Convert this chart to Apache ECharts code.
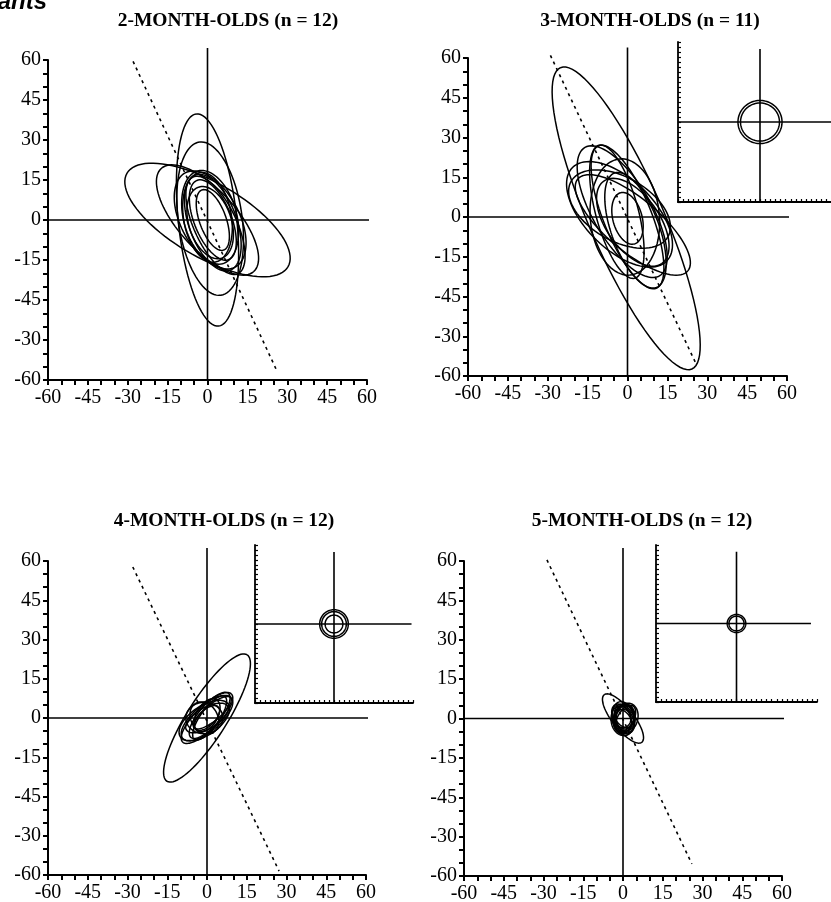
<!DOCTYPE html>
<html>
<head>
<meta charset="utf-8">
<title>infants</title>
<script src="https://cdn.jsdelivr.net/npm/echarts@6/dist/echarts.min.js"></script>
<style>
  html, body { margin: 0; padding: 0; background: #fff; }
  #chart { width: 831px; height: 902px; }
</style>
</head>
<body>
<div id="chart"></div>
<script>
const titles = ['2-MONTH-OLDS (n = 12)', '3-MONTH-OLDS (n = 11)', '4-MONTH-OLDS (n = 12)', '5-MONTH-OLDS (n = 12)']
const xTicks = ['-60', '-45', '-30', '-15', '0', '15', '30', '45', '60']
// bottom to top, as printed in the figure
const yTicks = ['-60', '-30', '-45', '-15', '0', '15', '30', '45', '60']

// ellipses: [cx, cy, semi-major, semi-minor, angle (deg)]
const ellipses2mo = [
  [0, 0, 40, 11, 96],
  [1, 0.5, 29, 12, 98],
  [0, 0, 35, 14, -30],
  [0, 0, 26, 11, -48],
  [1, 0, 20, 11, -62],
  [2, -1, 19, 9, -70],
  [1, 1, 18, 10, -75],
  [3, -2, 20, 8, -65],
  [0, 1, 17, 9, -80],
  [2, 0, 16, 7, -68],
  [1, -1, 14, 8, -72],
  [2, 0, 12, 5, -70]
]
const ellipses3mo = [
  [-0.5, -0.5, 62, 14, 113.5],
  [-2, 2, 28, 11, -60],
  [0, 0, 29, 9, -68],
  [-3, 1, 25, 13, -45],
  [2, -3, 27, 10, -40],
  [-4, 2, 26, 8, -75],
  [3, -5, 23, 9, -70],
  [-3, 3, 21, 12, -30],
  [0, -0.5, 10, 5.5, 105],
  [2, -2, 19, 10, -55],
  [-1, 0, 22, 13, -85]
]
const ellipses4mo = [
  [0, 0, 28.5, 7.5, 58],
  [0, 0, 13, 4.5, 45],
  [0, 0, 12, 5, 40],
  [1, 1, 11, 4, 50],
  [-1, -1, 11, 5.5, 35],
  [-1, 0, 7, 6, 0],
  [1, 0, 10, 3.5, 55],
  [0, 0, 9, 4, 30],
  [0, 1, 7, 4, 60],
  [2, 2, 9, 3, 40],
  [-1, 0, 6.5, 5, 120],
  [0, 0, 6, 3, 45]
]
const ellipses5mo = [
  [0, 0, 11.5, 4, 128],
  [0, 0, 6.5, 4, 100],
  [1, 0, 6, 4.5, 70],
  [0, 0, 6, 3.5, 120],
  [0.5, 0, 5, 4, 90],
  [1, 0, 5.5, 3, 60],
  [0, -0.5, 6, 4.5, 95],
  [0, 0, 5, 3, 110],
  [1, 0.5, 4.5, 3.5, 80],
  [0, 0, 4, 2.5, 130],
  [0.5, 0, 5.5, 3.5, 75],
  [0, 0, 3.5, 3, 90]
]
const ellipses = [ellipses2mo, ellipses3mo, ellipses4mo, ellipses5mo]

// dotted reference line end points
const dashed = [
  [[-28, 59.5], [26.3, -57]],
  [[-29, 61], [25.6, -55]],
  [[-28, 57.7], [27.2, -58.5]],
  [[-28.7, 60.4], [26, -55.4]]
]
// [top of vertical line, right end of horizontal line]
const crossEnds = [[64.5, 69.5], [64, 70], [65, 69.8], [65, 69.8]]

// inset: ring radii and crosshair ends (inset axes run -16..16)
const insetRings = [null, [4.3, 3.8], [2.9, 2.5, 1.8], [1.85, 1.5]]
const insetCross = [null, [14.6, 16], [14.6, 15.7], [14.6, 14.8]]

const mainGrids = [
  { left: 48, top: 60, width: 319, height: 320 },
  { left: 468, top: 58, width: 319, height: 318 },
  { left: 48, top: 561, width: 318, height: 314 },
  { left: 464, top: 561, width: 318, height: 315 }
]
const insetGrids = [
  null,
  { left: 678, top: 42, width: 164, height: 160 },
  { left: 255, top: 545, width: 158, height: 158 },
  { left: 656, top: 545, width: 161, height: 157 }
]
const titlePos = [[228, 11], [650, 11], [224, 511], [642, 511]]

const black = '#000'
const serif = 'Liberation Serif'

function renderEllipse(params, api) {
  const cx = api.value(0), cy = api.value(1)
  const a = api.value(2), b = api.value(3)
  const ang = api.value(4) * Math.PI / 180
  let pts = []
  for (let k = 0; k <= 90; k++) {
    const t = k / 90 * Math.PI * 2
    const ex = a * Math.cos(t), ey = b * Math.sin(t)
    pts.push(api.coord([cx + ex * Math.cos(ang) - ey * Math.sin(ang), cy + ex * Math.sin(ang) + ey * Math.cos(ang)]))
  }
  return {
    type: 'polyline',
    shape: { points: pts },
    style: { fill: null, stroke: black, lineWidth: 1.5 }
  }
}

function lineSeries(idx, data, width, type) {
  return {
    type: 'line', xAxisIndex: idx, yAxisIndex: idx, data: data,
    symbol: 'none', clip: false, silent: true,
    lineStyle: { color: black, width: width, type: type || 'solid' }
  }
}

let grids = [], xAxes = [], yAxes = [], series = [], graphics = []

mainGrids.forEach((g, i) => {
  grids.push(Object.assign({ containLabel: false, outerBoundsMode: 'none' }, g))
  const common = {
    gridIndex: i, type: 'value', min: -60, max: 60, interval: 15,
    axisLine: { onZero: false, lineStyle: { color: black, width: 2 } },
    axisTick: { length: 5, lineStyle: { color: black, width: 2 } },
    minorTick: { show: true, splitNumber: 3, length: 5, lineStyle: { color: black, width: 2 } },
    splitLine: { show: false },
    minorSplitLine: { show: false }
  }
  xAxes.push(Object.assign({}, common, {
    position: 'bottom',
    axisLabel: { color: black, fontFamily: serif, fontSize: 20, margin: 8,
      formatter: v => xTicks[Math.round((v + 60) / 15)] }
  }))
  yAxes.push(Object.assign({}, common, {
    position: 'left',
    axisLabel: { color: black, fontFamily: serif, fontSize: 20, margin: 7,
      formatter: v => yTicks[Math.round((v + 60) / 15)] }
  }))

  series.push({
    type: 'custom', xAxisIndex: i, yAxisIndex: i, silent: true,
    encode: { x: 0, y: 1 },
    renderItem: renderEllipse,
    data: ellipses[i]
  })
  series.push(lineSeries(i, [[0, -60], [0, crossEnds[i][0]]], 1.6))
  series.push(lineSeries(i, [[-60, 0], [crossEnds[i][1], 0]], 1.6))
  series.push(lineSeries(i, dashed[i], 1.6, [3, 4]))

  graphics.push({
    type: 'text', x: titlePos[i][0], y: titlePos[i][1],
    style: { text: titles[i], fontFamily: serif, fontWeight: 'bold', fontSize: 19.5,
      fill: black, align: 'center', verticalAlign: 'top' }
  })
})

insetGrids.forEach((g, i) => {
  if (!g) return
  const idx = grids.length
  grids.push(Object.assign({ containLabel: false, outerBoundsMode: 'none' }, g))
  const common = {
    gridIndex: idx, type: 'value', min: -16, max: 16, interval: 1,
    axisLine: { onZero: false, lineStyle: { color: black, width: 1.8 } },
    axisTick: { inside: true, length: 3, lineStyle: { color: black, width: 1.2 } },
    axisLabel: { show: false },
    splitLine: { show: false }
  }
  xAxes.push(Object.assign({ position: 'bottom' }, common))
  yAxes.push(Object.assign({ position: 'left' }, common))

  series.push({
    type: 'custom', xAxisIndex: idx, yAxisIndex: idx, silent: true,
    encode: { x: 0, y: 1 },
    renderItem: renderEllipse,
    data: insetRings[i].map(r => [0, 0, r, r, 0])
  })
  series.push(lineSeries(idx, [[0, -16], [0, insetCross[i][0]]], 1.6))
  series.push(lineSeries(idx, [[-16, 0], [insetCross[i][1], 0]], 1.6))
})

// panel header, mostly cut off at the top of the page
graphics.push({
  type: 'text', x: 47, y: 14,
  style: { text: 'Infants', fontFamily: 'Liberation Sans', fontStyle: 'italic', fontWeight: 'bold',
    fontSize: 24, fill: black, align: 'right', verticalAlign: 'bottom' }
})

const chart = echarts.init(document.getElementById('chart'), null, { renderer: 'canvas' })
chart.setOption({
  animation: false,
  backgroundColor: '#fff',
  grid: grids,
  xAxis: xAxes,
  yAxis: yAxes,
  series: series,
  graphic: graphics
})
</script>
</body>
</html>
